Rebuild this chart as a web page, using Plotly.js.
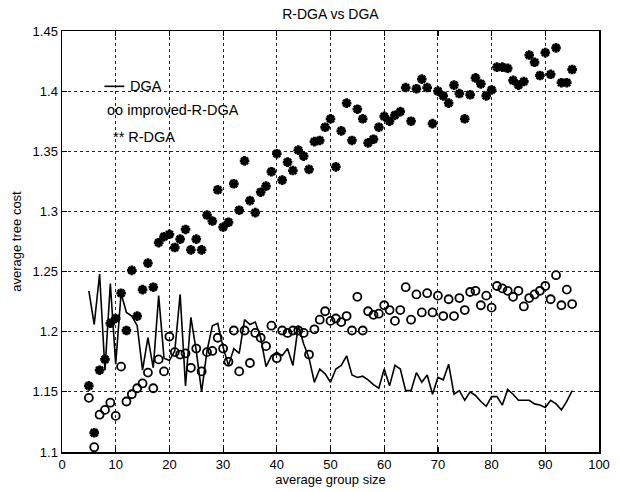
<!DOCTYPE html>
<html>
<head>
<meta charset="utf-8">
<script src="https://cdn.plot.ly/plotly-3.0.1.min.js"></script>
<style>html,body{margin:0;padding:0;background:#fff;}#chart{width:620px;height:492px;}</style>
</head>
<body>
<div id="chart"></div>
<script>
// average group size (shared x for all series)
const groupSize = [5,6,7,8,9,10,11,12,13,14,15,16,17,18,19,20,21,22,23,24,25,26,27,28,29,30,31,32,33,34,35,36,37,38,39,40,41,42,43,44,45,46,47,48,49,50,51,52,53,54,55,56,57,58,59,60,61,62,63,64,65,66,67,68,69,70,71,72,73,74,75,76,77,78,79,80,81,82,83,84,85,86,87,88,89,90,91,92,93,94,95];

// DGA (solid line)
const dga = [1.234,1.206,1.248,1.168,1.240,1.173,1.232,1.216,1.213,1.205,1.168,1.195,1.170,1.230,1.178,1.176,1.184,1.231,1.155,1.212,1.184,1.150,1.184,1.205,1.207,1.187,1.172,1.186,1.182,1.210,1.206,1.208,1.195,1.171,1.180,1.183,1.180,1.186,1.172,1.205,1.190,1.178,1.158,1.169,1.165,1.158,1.169,1.172,1.180,1.164,1.162,1.163,1.160,1.156,1.153,1.169,1.155,1.172,1.169,1.151,1.151,1.166,1.158,1.164,1.148,1.162,1.160,1.173,1.148,1.151,1.143,1.150,1.147,1.142,1.138,1.146,1.146,1.139,1.152,1.148,1.143,1.143,1.143,1.140,1.139,1.137,1.143,1.140,1.135,1.142,1.151];

// improved-R-DGA (open circles)
const improvedRdga = [1.145,1.104,1.131,1.135,1.141,1.130,1.171,1.142,1.148,1.153,1.157,1.166,1.153,1.177,1.167,1.196,1.183,1.181,1.182,1.170,1.186,1.167,1.183,1.184,1.195,1.186,1.175,1.201,1.167,1.201,1.174,1.199,1.195,1.188,1.205,1.178,1.201,1.199,1.201,1.201,1.199,1.181,1.202,1.210,1.217,1.209,1.211,1.208,1.213,1.201,1.229,1.201,1.217,1.214,1.215,1.222,1.218,1.209,1.218,1.237,1.210,1.231,1.216,1.232,1.216,1.230,1.213,1.227,1.213,1.228,1.218,1.233,1.234,1.222,1.230,1.220,1.238,1.236,1.234,1.229,1.234,1.221,1.228,1.231,1.234,1.238,1.227,1.247,1.222,1.235,1.223];

// R-DGA (stars)
const rdga = [1.155,1.116,1.168,1.177,1.207,1.211,1.232,1.201,1.251,1.213,1.235,1.257,1.237,1.274,1.279,1.281,1.270,1.277,1.285,1.268,1.277,1.268,1.297,1.292,1.318,1.287,1.291,1.323,1.301,1.342,1.309,1.299,1.316,1.321,1.333,1.348,1.326,1.341,1.334,1.351,1.346,1.335,1.358,1.359,1.370,1.377,1.337,1.367,1.390,1.359,1.385,1.377,1.357,1.360,1.370,1.379,1.375,1.380,1.383,1.403,1.375,1.402,1.410,1.403,1.373,1.400,1.396,1.390,1.405,1.398,1.377,1.397,1.411,1.406,1.396,1.401,1.420,1.420,1.419,1.409,1.405,1.408,1.430,1.424,1.413,1.432,1.414,1.436,1.407,1.407,1.418];

const xTickVals = [0,10,20,30,40,50,60,70,80,90,100];
const xTickLabels = ['0','10','20','30','40','50','60','70','80','90','100'];
const yTickVals = [1.1,1.15,1.2,1.25,1.3,1.35,1.4,1.45];
const yTickLabels = ['1.1','1.15','1.2','1.25','1.3','1.35','1.4','1.45'];

const legendLabels = ['DGA','oo improved-R-DGA','** R-DGA'];

const FONT = 'Liberation Sans, Arial, sans-serif';

const traces = [
  {x: groupSize, y: dga, type: 'scatter', mode: 'lines', name: 'DGA',
   line: {color: '#000', width: 1.6}},
  {x: groupSize, y: improvedRdga, type: 'scatter', mode: 'markers', name: 'improved-R-DGA',
   marker: {symbol: 'circle-open', size: 8, color: '#000', line: {color: '#000', width: 1.8}}},
  {x: groupSize, y: rdga, type: 'scatter', mode: 'markers', name: 'R-DGA',
   marker: {symbol: 'asterisk-open', size: 8, color: '#000', line: {color: '#000', width: 2.8}}}
];

const axisCommon = {
  showline: true, linecolor: '#000', linewidth: 1.5, mirror: 'ticks',
  ticks: 'inside', ticklen: 5, tickwidth: 1.2, tickcolor: '#000',
  showgrid: true, gridcolor: '#222', gridwidth: 1, griddash: 'dot',
  zeroline: false, tickfont: {family: FONT, size: 13, color: '#000'}
};

const layout = {
  width: 620, height: 492,
  paper_bgcolor: '#fff', plot_bgcolor: '#fff',
  margin: {l: 62, r: 21, t: 31, b: 40},
  showlegend: false,
  font: {family: FONT, color: '#000'},
  title: {text: 'R-DGA vs DGA', font: {family: FONT, size: 14, color: '#000'}, x: 0.533, xanchor: 'center', y: 0.972, yanchor: 'middle'},
  xaxis: Object.assign({}, axisCommon, {
    range: [0, 100], tickvals: xTickVals, ticktext: xTickLabels,
    title: {text: 'average group size', font: {family: FONT, size: 13, color: '#000'}, standoff: 3}
  }),
  yaxis: Object.assign({}, axisCommon, {
    range: [1.1, 1.45], tickvals: yTickVals, ticktext: yTickLabels,
    title: {text: 'average tree cost', font: {family: FONT, size: 13, color: '#000'}, standoff: 8}
  }),
  shapes: [
    {type: 'line', xref: 'x', yref: 'y', x0: 7.9, x1: 11.6, y0: 1.404, y1: 1.404, line: {color: '#000', width: 1.6}}
  ],
  annotations: [
    {xref: 'x', yref: 'y', x: 12.2, y: 1.404, text: legendLabels[0], showarrow: false, xanchor: 'left', yanchor: 'middle', font: {family: FONT, size: 14.5, color: '#000'}},
    {xref: 'x', yref: 'y', x: 8.0, y: 1.384, text: legendLabels[1], showarrow: false, xanchor: 'left', yanchor: 'middle', font: {family: FONT, size: 14.5, color: '#000'}},
    {xref: 'x', yref: 'y', x: 9.2, y: 1.362, text: legendLabels[2], showarrow: false, xanchor: 'left', yanchor: 'middle', font: {family: FONT, size: 14.5, color: '#000'}}
  ]
};

Plotly.newPlot('chart', traces, layout, {staticPlot: true, displayModeBar: false});
</script>
</body>
</html>
